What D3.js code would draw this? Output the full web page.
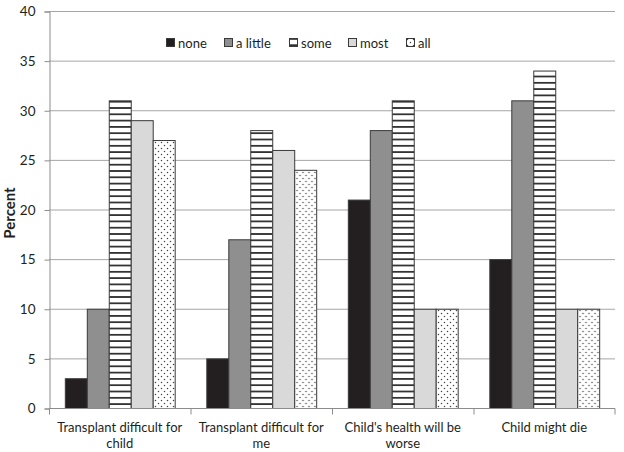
<!DOCTYPE html>
<html lang="en">
<head>
<meta charset="UTF-8">
<title>Percent by worry</title>
<script src="https://cdn.jsdelivr.net/npm/d3@7"></script>
<style>
  body { margin: 0; background: #fff; }
  text { font-family: Lato, "Open Sans", sans-serif; fill: #231f20; }
</style>
</head>
<body>
<script>
var categories = ["Transplant difficult for child", "Transplant difficult for me",
                  "Child's health will be worse", "Child might die"];
var seriesNames = ["none", "a little", "some", "most", "all"];
var none    = [3, 5, 21, 15];
var aLittle = [10, 17, 28, 31];
var some    = [31, 28, 31, 34];
var most    = [29, 26, 10, 10];
var all     = [27, 24, 10, 10];
var yTicks  = [0, 5, 10, 15, 20, 25, 30, 35, 40];
var seriesValues = [none, aLittle, some, most, all];

var width = 624, height = 452;
var margin = {left: 49, right: 9, top: 11, bottom: 44};

var svg = d3.select('body').append('svg')
    .attr('width', width)
    .attr('height', height);

var defs = svg.append('defs');
var stripes = defs.append('pattern')
    .attr('id', 'stripes')
    .attr('patternUnits', 'userSpaceOnUse')
    .attr('width', 8).attr('height', 6.3);
stripes.append('rect').attr('width', 8).attr('height', 6.3).attr('fill', '#fff');
stripes.append('rect').attr('y', 0).attr('width', 8).attr('height', 1.8).attr('fill', '#333');

var dots = defs.append('pattern')
    .attr('id', 'dots')
    .attr('patternUnits', 'userSpaceOnUse')
    .attr('width', 6).attr('height', 6);
dots.append('rect').attr('width', 6).attr('height', 6).attr('fill', '#fff');
dots.append('circle').attr('cx', 1.5).attr('cy', 1.5).attr('r', 0.75).attr('fill', '#444');
dots.append('circle').attr('cx', 4.5).attr('cy', 4.5).attr('r', 0.75).attr('fill', '#444');

var fills = ['#231f20', '#8f8f8f', 'url(#stripes)', '#d9d9d9', 'url(#dots)'];

var x0 = d3.scaleBand()
    .domain(categories)
    .range([margin.left, width - margin.right]);
var x1 = d3.scaleBand()
    .domain(seriesNames)
    .range([0, x0.bandwidth()])
    .paddingOuter(0.72);
var y = d3.scaleLinear()
    .domain([0, 40])
    .range([height - margin.bottom, margin.top]);

// grid lines
svg.append('g').selectAll('line')
    .data(yTicks.slice(1))
    .enter().append('line')
    .attr('x1', margin.left).attr('x2', width - margin.right)
    .attr('y1', function (d) { return y(d) + 0.5; })
    .attr('y2', function (d) { return y(d) + 0.5; })
    .attr('stroke', '#a6a6a6');

// y axis
var yAxis = svg.append('g')
    .attr('transform', 'translate(' + (margin.left + 0.5) + ',0.5)')
    .call(d3.axisLeft(y).tickValues(yTicks).tickSizeOuter(0).tickSize(5).tickPadding(9));
yAxis.select('.domain').attr('stroke', '#8c8c8c');
yAxis.selectAll('.tick line').attr('stroke', '#8c8c8c');
yAxis.selectAll('text').style('font-size', '13.5px').style('font-family', 'Lato, sans-serif').attr('fill', '#231f20');

svg.append('text')
    .attr('transform', 'translate(15,213) rotate(-90)')
    .attr('text-anchor', 'middle')
    .style('font-size', '15px')
    .style('font-weight', 'bold')
    .text('Percent');

// bars
var groups = svg.append('g').selectAll('g')
    .data(categories)
    .enter().append('g')
    .attr('transform', function (d) { return 'translate(' + x0(d) + ',0)'; });
groups.selectAll('rect')
    .data(function (d, i) {
        return seriesNames.map(function (s, j) { return {s: s, v: seriesValues[j][i], j: j}; });
    })
    .enter().append('rect')
    .attr('x', function (d) { return x1(d.s) + 0.5; })
    .attr('y', function (d) { return y(d.v) + 0.5; })
    .attr('width', x1.bandwidth())
    .attr('height', function (d) { return y(0) - y(d.v); })
    .attr('fill', function (d) { return fills[d.j]; })
    .attr('stroke', '#3a3a3a')
    .attr('stroke-width', 1);

// x axis
var xAxis = svg.append('g')
    .attr('transform', 'translate(0,' + (y(0) + 0.5) + ')');
xAxis.append('line')
    .attr('x1', margin.left).attr('x2', width - margin.right)
    .attr('stroke', '#8c8c8c');
xAxis.selectAll('line.tk')
    .data(categories.concat([null]))
    .enter().append('line')
    .attr('class', 'tk')
    .attr('x1', function (d) { return d === null ? width - margin.right : x0(d) + 0.5; })
    .attr('x2', function (d) { return d === null ? width - margin.right : x0(d) + 0.5; })
    .attr('y1', 0).attr('y2', 6)
    .attr('stroke', '#8c8c8c');

var labels = xAxis.selectAll('text.cat')
    .data(categories)
    .enter().append('text')
    .attr('class', 'cat')
    .attr('text-anchor', 'middle')
    .style('font-size', '13px')
    .attr('x', function (d) { return x0(d) + x0.bandwidth() / 2; })
    .attr('y', 23);

labels.each(function (d) {
    var t = d3.select(this);
    var words = d.split(' ');
    var line = [], lines = [];
    var tmp = t.append('tspan');
    words.forEach(function (w) {
        line.push(w);
        tmp.text(line.join(' '));
        if (tmp.node().getComputedTextLength() > 130 && line.length > 1) {
            line.pop();
            lines.push(line.join(' '));
            line = [w];
        }
    });
    lines.push(line.join(' '));
    tmp.remove();
    lines.forEach(function (l, k) {
        t.append('tspan')
            .attr('x', x0(d) + x0.bandwidth() / 2)
            .attr('dy', k === 0 ? 0 : 16)
            .text(l);
    });
});

// legend
var legendX = [166, 224, 289, 348, 406];
var legend = svg.append('g').selectAll('g')
    .data(seriesNames)
    .enter().append('g')
    .attr('transform', function (d, i) { return 'translate(' + legendX[i] + ',38)'; });
legend.append('rect')
    .attr('x', 0.5).attr('y', 0.5)
    .attr('width', 8).attr('height', 8)
    .attr('fill', function (d, i) { return fills[i]; })
    .attr('stroke', '#3a3a3a');
legend.append('text')
    .attr('x', 12).attr('y', 9.5)
    .style('font-size', '13px')
    .text(function (d) { return d; });
</script>
</body>
</html>
